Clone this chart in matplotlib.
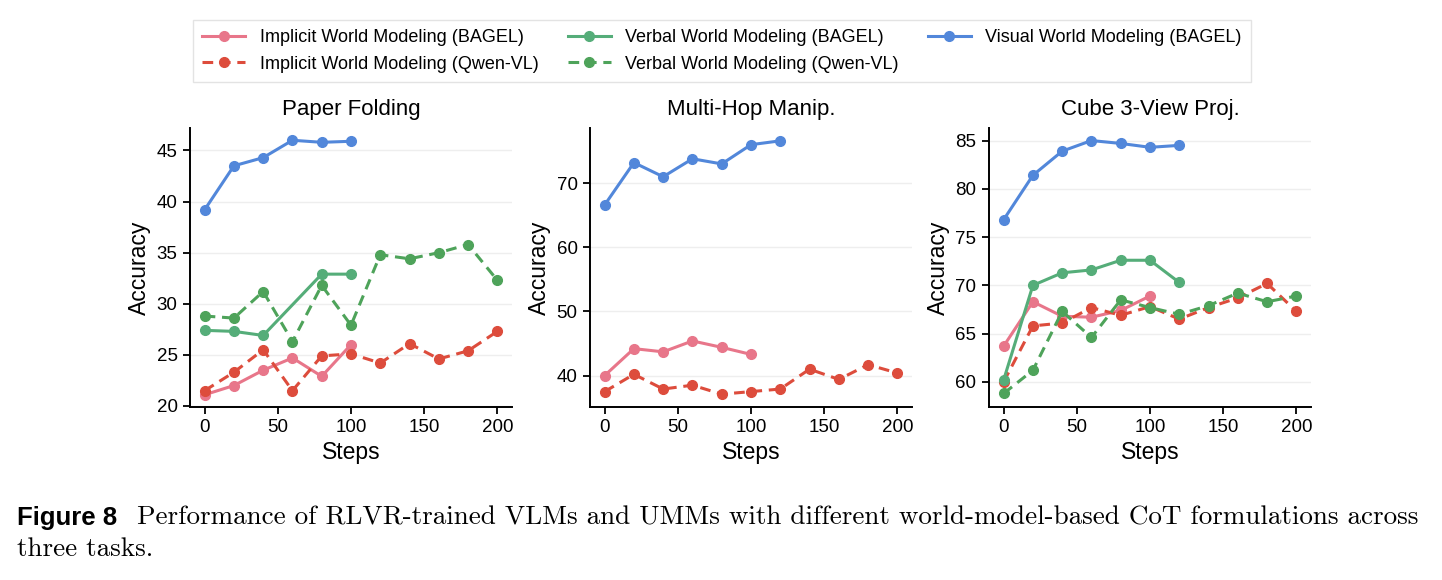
import matplotlib
matplotlib.use("Agg")
import matplotlib.pyplot as plt

plt.rcParams['font.family'] = ['Liberation Sans', 'DejaVu Sans']

titles = ['Paper Folding', 'Multi-Hop Manip.', 'Cube 3-View Proj.']
labels = ['Implicit World Modeling (BAGEL)', 'Implicit World Modeling (Qwen-VL)',
          'Verbal World Modeling (BAGEL)', 'Verbal World Modeling (Qwen-VL)',
          'Visual World Modeling (BAGEL)']

# steps
s100 = [0, 20, 40, 60, 80, 100]
s120 = [0, 20, 40, 60, 80, 100, 120]
s200 = [0, 20, 40, 60, 80, 100, 120, 140, 160, 180, 200]
s_verb_pf = [0, 20, 40, 80, 100]

# Paper Folding
pf_imp_bagel = [21.1, 22.0, 23.5, 24.7, 22.9, 26.0]
pf_imp_qwen = [21.5, 23.3, 25.5, 21.5, 24.9, 25.1, 24.2, 26.1, 24.6, 25.4, 27.3]
pf_verb_bagel = [27.4, 27.3, 26.9, 32.9, 32.9]
pf_verb_qwen = [28.8, 28.6, 31.2, 26.3, 31.8, 27.9, 34.8, 34.4, 35.0, 35.8, 32.3]
pf_vis_bagel = [39.2, 43.5, 44.3, 46.0, 45.8, 45.9]

# Multi-Hop Manip.
mh_imp_bagel = [40.0, 44.2, 43.7, 45.4, 44.4, 43.3]
mh_imp_qwen = [37.5, 40.2, 37.9, 38.5, 37.1, 37.5, 37.9, 41.0, 39.4, 41.7, 40.4]
mh_vis_bagel = [66.6, 73.2, 71.0, 73.8, 73.0, 76.0, 76.6]

# Cube 3-View Proj.
cv_imp_bagel = [63.7, 68.3, 66.8, 66.7, 67.4, 68.9]
cv_imp_qwen = [60.0, 65.8, 66.1, 67.7, 66.9, 67.8, 66.5, 67.7, 68.7, 70.2, 67.3]
cv_verb_bagel = [60.2, 70.0, 71.3, 71.6, 72.6, 72.6, 70.3]
cv_verb_qwen = [58.8, 61.2, 67.3, 64.6, 68.5, 67.7, 67.0, 67.9, 69.2, 68.3, 68.9]
cv_vis_bagel = [76.8, 81.4, 83.9, 85.0, 84.7, 84.3, 84.5]

colors = ['#E8768A', '#DD4C3C', '#55AD79', '#4EA35A', '#5287DA']
styles = ['-', '--', '-', '--', '-']

panels = [
    [(s100, pf_imp_bagel, 0), (s200, pf_imp_qwen, 1), (s_verb_pf, pf_verb_bagel, 2),
     (s200, pf_verb_qwen, 3), (s100, pf_vis_bagel, 4)],
    [(s100, mh_imp_bagel, 0), (s200, mh_imp_qwen, 1), (s120, mh_vis_bagel, 4)],
    [(s100, cv_imp_bagel, 0), (s200, cv_imp_qwen, 1), (s120, cv_verb_bagel, 2),
     (s200, cv_verb_qwen, 3), (s120, cv_vis_bagel, 4)],
]
ylims = [(19.9, 47.2), (35.1, 78.6), (57.4, 86.3)]
yticks = [[20, 25, 30, 35, 40, 45], [40, 50, 60, 70], [60, 65, 70, 75, 80, 85]]

fig = plt.figure(figsize=(14.42, 5.8), dpi=100)
lefts = [190, 590, 989]
handles = {}
for i in range(3):
    ax = fig.add_axes([lefts[i] / 1442, 1 - 407 / 580, 322 / 1442, 279 / 580])
    for x, y, k in panels[i]:
        ln, = ax.plot(x, y, linestyle=styles[k], color=colors[k], marker='o',
                      markersize=7, linewidth=2.2,
                      dashes=(3.5, 2.2) if styles[k] == '--' else (None, None),
                      label=labels[k], zorder=3)
        handles[k] = ln
    ax.set_xlim(-10, 210)
    ax.set_ylim(*ylims[i])
    ax.set_xticks([0, 50, 100, 150, 200])
    ax.set_yticks(yticks[i])
    ax.grid(axis='y', color='#EEEEEE', linewidth=1, zorder=0)
    ax.spines['top'].set_visible(False)
    ax.spines['right'].set_visible(False)
    ax.spines['left'].set_linewidth(1.4)
    ax.spines['bottom'].set_linewidth(1.4)
    ax.tick_params(labelsize=13.5, length=5, width=1.3, pad=4)
    ax.set_title(titles[i], fontsize=16, pad=9)
    ax.set_xlabel('Steps', fontsize=16.5, labelpad=3)
    ax.set_ylabel('Accuracy', fontsize=16.5, labelpad=4)

fig.legend([handles[k] for k in range(5)], labels, ncol=3, loc='center',
           bbox_to_anchor=(722 / 1442, 1 - 51 / 580), fontsize=13, frameon=True,
           fancybox=False, edgecolor='#DDDDDD', columnspacing=1.6, handlelength=2.4,
           borderpad=0.5, labelspacing=0.5, handletextpad=0.8)

fig.text(17 / 1442, 1 - 518 / 580, 'Figure 8', fontsize=18.5, fontweight='bold', va='center')
fig.text(137 / 1442, 1 - 518 / 580,
         'Performance of RLVR-trained VLMs and UMMs with different world-model-based CoT formulations across',
         fontsize=19.5, family='cmr10', va='center')
fig.text(17 / 1442, 1 - 549 / 580, 'three tasks.', fontsize=19.5, family='cmr10', va='center')

fig.savefig('out.png', dpi=100)
